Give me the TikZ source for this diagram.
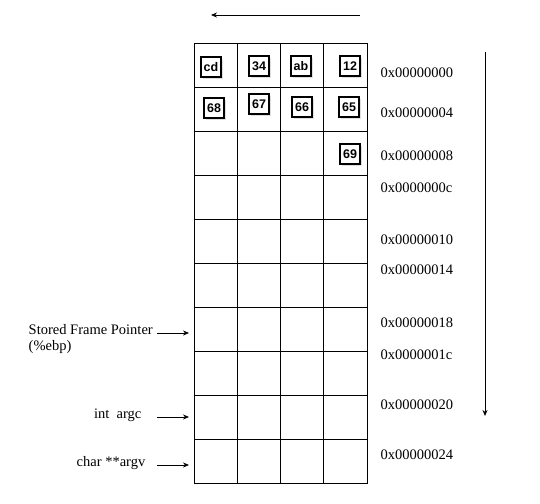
\documentclass[tikz,border=0pt]{standalone}
\usepackage{fontspec}
\setmainfont{Liberation Serif}
\setsansfont{Liberation Sans}
\usetikzlibrary{shadows,arrows.meta}
\begin{document}
\begin{tikzpicture}[x=1pt, y=-1pt, >={Stealth[length=6pt,width=5pt]}, line width=0.8pt,
    cell/.style={draw, minimum width=43.25pt, minimum height=44pt, inner sep=0pt},
    byte/.style={draw, line width=1.5pt, fill=white, minimum size=20pt, inner sep=0pt,
      font=\sffamily\bfseries\fontsize{12.5}{13}\selectfont,
      drop shadow={shadow xshift=2pt, shadow yshift=-2pt, fill=gray!50}},
    addr/.style={anchor=west, font=\fontsize{14.5}{15}\selectfont},
    lbl/.style={font=\fontsize{14.5}{16}\selectfont}]
  \useasboundingbox (0,0) rectangle (540,503);

  % memory cells
  \foreach \r in {0,...,9}
    \foreach \c in {0,...,3}
      \node[cell] (cell-\r-\c) at (215.6+43.25*\c, 65+44*\r) {};

  % bytes
  \node[byte] (cd) at (211,67) {cd};
  \node[byte] (b34) at (259,66) {34};
  \node[byte] (ab) at (301,66) {ab};
  \node[byte] (b12) at (350,66) {12};
  \node[byte] (b68) at (214,108) {68};
  \node[byte] (b67) at (259,104) {67};
  \node[byte] (b66) at (302,107) {66};
  \node[byte] (b65) at (349,107) {65};
  \node[byte] (b69) at (350,154) {69};

  % addresses
  \node[addr] (a00) at (377,73) {0x00000000};
  \node[addr] (a04) at (377,113) {0x00000004};
  \node[addr] (a08) at (377,156) {0x00000008};
  \node[addr] (a0c) at (377,188) {0x0000000c};
  \node[addr] (a10) at (377,240) {0x00000010};
  \node[addr] (a14) at (377,270) {0x00000014};
  \node[addr] (a18) at (377,323) {0x00000018};
  \node[addr] (a1c) at (377,355) {0x0000001c};
  \node[addr] (a20) at (377,405) {0x00000020};
  \node[addr] (a24) at (377,455) {0x00000024};

  % direction arrows
  \coordinate (rstart) at (360,15);
  \coordinate (rend) at (211,15);
  \draw[->] (rstart) -- (rend);
  \coordinate (dstart) at (485,52);
  \coordinate (dend) at (485,416);
  \draw[->] (dstart) -- (dend);

  % left labels
  \node[lbl, align=left, anchor=north west] (sfp) at (25,321) {Stored Frame Pointer\\(\%ebp)};
  \coordinate (sfpa) at (157,333);
  \coordinate (sfpb) at (189,333);
  \draw[->] (sfpa) -- (sfpb);
  \node[lbl, anchor=east] (argc) at (145,415) {int\ \ argc};
  \coordinate (argca) at (157,417);
  \coordinate (argcb) at (189,417);
  \draw[->] (argca) -- (argcb);
  \node[lbl, anchor=east] (argv) at (149,463) {char **argv};
  \coordinate (argva) at (157,465);
  \coordinate (argvb) at (189,465);
  \draw[->] (argva) -- (argvb);
\end{tikzpicture}
\end{document}
